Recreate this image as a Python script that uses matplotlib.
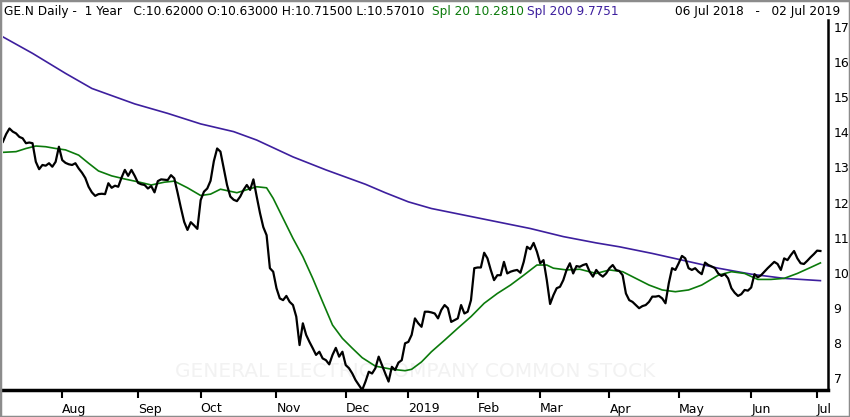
import matplotlib
matplotlib.use("Agg")
import matplotlib.pyplot as plt
import pandas as pd
from matplotlib.patches import Rectangle

# NYSE closures inside the window
holidays = ["2018-09-03", "2018-11-22", "2018-12-05", "2018-12-25", "2019-01-01",
            "2019-01-21", "2019-02-18", "2019-04-19", "2019-05-27"]
days = pd.bdate_range("2018-07-06", "2019-07-02", freq="C", holidays=holidays)

# daily close
close = [
    13.73, 13.95, 14.11, 14.02, 13.97, 13.87, 13.83, 13.69, 13.71, 13.69,
    13.16, 12.95, 13.07, 13.05, 13.12, 13.02, 13.16, 13.59, 13.21, 13.13,
    13.09, 13.07, 13.12, 12.97, 12.85, 12.70, 12.45, 12.29, 12.19, 12.24,
    12.25, 12.24, 12.55, 12.42, 12.48, 12.45, 12.71, 12.93, 12.76, 12.93,
    12.76, 12.56, 12.52, 12.50, 12.40, 12.47, 12.29, 12.61, 12.66, 12.65,
    12.64, 12.78, 12.69, 12.28, 11.85, 11.45, 11.22, 11.44, 11.35, 11.25,
    12.07, 12.31, 12.40, 12.62, 13.18, 13.54, 13.45, 12.97, 12.50, 12.17,
    12.08, 12.04, 12.17, 12.36, 12.50, 12.36, 12.66, 12.17, 11.70, 11.30,
    11.07, 10.13, 10.03, 9.56, 9.27, 9.22, 9.34, 9.17, 9.08, 8.75,
    7.94, 8.56, 8.23, 8.03, 7.85, 7.66, 7.75, 7.56, 7.51, 7.39,
    7.66, 7.86, 7.61, 7.75, 7.37, 7.28, 7.13, 6.94, 6.80, 6.66,
    6.90, 7.18, 7.13, 7.28, 7.61, 7.37, 7.13, 6.90, 7.32, 7.23,
    7.44, 7.51, 7.99, 8.03, 8.23, 8.70, 8.56, 8.46, 8.89, 8.89,
    8.87, 8.84, 8.70, 8.94, 9.08, 8.99, 8.60, 8.65, 8.70, 9.08,
    8.84, 8.89, 9.22, 10.13, 10.15, 10.15, 10.57, 10.41, 10.08, 9.79,
    9.93, 9.93, 10.31, 9.98, 10.03, 10.06, 10.08, 10.00, 10.31, 10.74,
    10.67, 10.85, 10.60, 10.27, 10.36, 9.79, 9.11, 9.36, 9.56, 9.60,
    9.79, 10.08, 10.27, 9.98, 10.19, 10.17, 10.22, 10.25, 10.03, 9.89,
    10.08, 9.96, 9.89, 9.98, 10.13, 10.22, 10.08, 10.05, 9.93, 9.41,
    9.22, 9.17, 9.08, 8.99, 9.05, 9.08, 9.17, 9.32, 9.32, 9.34,
    9.27, 9.13, 9.70, 10.13, 10.08, 10.27, 10.48, 10.41, 10.13, 10.08,
    10.13, 10.03, 9.96, 10.29, 10.22, 10.18, 10.13, 9.98, 9.91, 9.96,
    9.84, 9.56, 9.43, 9.34, 9.39, 9.51, 9.49, 9.58, 9.96, 9.87,
    9.93, 10.03, 10.13, 10.22, 10.31, 10.25, 10.08, 10.41, 10.36, 10.50,
    10.62, 10.41, 10.27, 10.25, 10.34, 10.44, 10.53, 10.63, 10.62,
]

# 20-day average, sampled along the curve (trading-day index, value)
spl20_day = [0, 4, 7, 10, 13, 16, 19, 23, 26, 29, 33, 37, 41, 45, 49, 52, 56, 60, 63, 66,
             71, 77, 80, 82, 85, 88, 91, 94, 97, 100, 103, 106, 109, 113, 118, 122, 124,
             127, 130, 134, 138, 142, 146, 150, 154, 158, 162, 165, 167, 171, 175, 180,
             184, 188, 192, 196, 200, 204, 208, 212, 217, 221, 225, 229, 233, 237, 241,
             245, 248]
spl20_val = [13.43, 13.45, 13.54, 13.61, 13.59, 13.54, 13.50, 13.35, 13.12, 12.90, 12.76,
             12.67, 12.59, 12.50, 12.58, 12.61, 12.42, 12.20, 12.24, 12.38, 12.28, 12.45,
             12.42, 12.12, 11.55, 10.98, 10.46, 9.84, 9.17, 8.51, 8.13, 7.85, 7.58, 7.34,
             7.25, 7.21, 7.25, 7.46, 7.75, 8.08, 8.42, 8.75, 9.13, 9.41, 9.65, 9.93, 10.22,
             10.22, 10.13, 10.08, 10.10, 9.98, 10.08, 10.03, 9.84, 9.65, 9.51, 9.46, 9.51,
             9.65, 9.93, 10.03, 9.98, 9.81, 9.81, 9.84, 9.98, 10.15, 10.28]

# 200-day average
spl200_day = [0, 9, 19, 27, 40, 50, 60, 70, 77, 88, 98, 110, 116, 123, 130, 140, 150,
              160, 170, 180, 187, 197, 207, 217, 227, 237, 248]
spl200_val = [16.72, 16.25, 15.68, 15.25, 14.81, 14.54, 14.24, 14.02, 13.78, 13.30, 12.93,
              12.52, 12.28, 12.02, 11.83, 11.64, 11.45, 11.26, 11.03, 10.85, 10.74, 10.55,
              10.34, 10.13, 9.96, 9.84, 9.775]

y_ticks = list(range(7, 18))
watermark = "GENERAL ELECTRIC COMPANY COMMON STOCK"

BLACK = "#000000"
GREEN = "#0b7a0b"
PURPLE = "#3d1f9e"

fig = plt.figure(figsize=(8.5, 4.17), dpi=100)
ax = fig.add_axes([3 / 850, 27 / 417, 825 / 850, 370 / 417])

x = list(range(len(close)))
ax.text(0.5, 0.05, watermark, transform=ax.transAxes, ha="center", va="center",
        fontsize=14.5, color="#f2f2f2",
        family=["Liberation Sans Narrow", "DejaVu Sans Condensed"], zorder=0)
ax.plot(spl200_day, spl200_val, color=PURPLE, lw=1.2, zorder=2)
ax.plot(spl20_day, spl20_val, color=GREEN, lw=1.2, zorder=3)
ax.plot(x, close, color=BLACK, lw=1.6, zorder=4)

ax.set_xlim(0.04, 250.3)
ax.set_ylim(6.66, 17.2)

# month ticks at first trading day of each month
month_idx = [i for i in range(1, len(days)) if days[i].month != days[i - 1].month]
month_lbl = [str(days[i].year) if days[i].month == 1 else days[i].strftime("%b") for i in month_idx]
ax.set_xticks(month_idx)
ax.set_xticklabels(month_lbl, ha="left", fontsize=9)
ax.tick_params(axis="x", direction="out", length=6, width=1.5, pad=3)

ax.yaxis.tick_right()
ax.set_yticks(y_ticks)
ax.set_yticklabels([str(v) for v in y_ticks], fontsize=9)
ax.tick_params(axis="y", length=0, pad=4)

for side in ["top", "left"]:
    ax.spines[side].set_visible(False)
ax.spines["bottom"].set_linewidth(2.5)
ax.spines["right"].set_linewidth(1.8)

# header line
hy = 1 - 12 / 417
fig.text(4 / 850, hy, "GE.N Daily -  1 Year   C:10.62000 O:10.63000 H:10.71500 L:10.57010",
         fontsize=8.7, va="center", color=BLACK)
fig.text(432 / 850, hy, "Spl 20 10.2810", fontsize=8.7, va="center", color=GREEN)
fig.text(527 / 850, hy, "Spl 200 9.7751", fontsize=8.7, va="center", color=PURPLE)
fig.text(840 / 850, hy, "06 Jul 2018   -   02 Jul 2019", fontsize=8.7, va="center",
         ha="right", color=BLACK)

fig.patches.append(Rectangle((0, 0), 1, 1, transform=fig.transFigure, fill=False,
                             edgecolor="#8c8c8c", linewidth=2.5))

fig.savefig("out.png", dpi=100)
